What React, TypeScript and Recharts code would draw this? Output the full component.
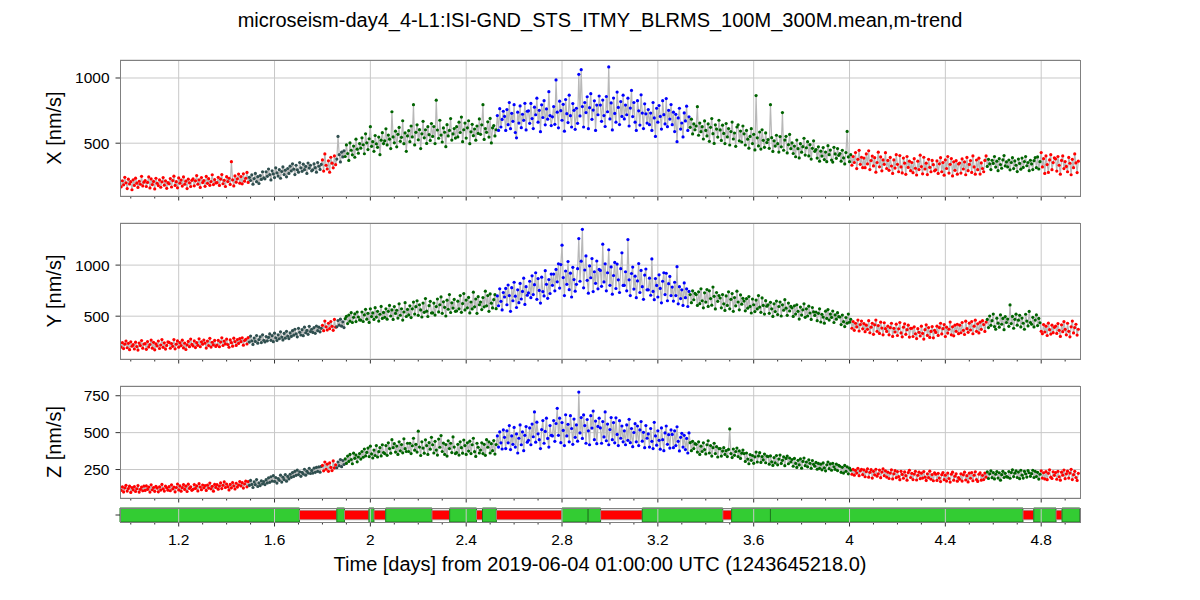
import React from "react";
import { ComposedChart, Line, XAxis, YAxis, CartesianGrid, ReferenceLine, ReferenceArea } from "recharts";

// trend samples, one every 0.005 day starting at T0 (20 per row = 0.1 day)
const T0 = 0.96;
const STEP = 0.005;

const xValues = [
  165, 212, 181, 238, 196, 152, 224, 187, 205, 143, 219, 176, 232, 193, 161, 208, 185, 246, 172, 201,
  214, 168, 199, 241, 157, 226, 183, 207, 149, 231, 192, 175, 218, 162, 204, 236, 178, 211, 154, 197,
  188, 229, 164, 213, 247, 176, 205, 158, 234, 193, 217, 171, 241, 185, 209, 152, 224, 196, 168, 215,
  226, 173, 211, 252, 186, 219, 161, 237, 198, 214, 169, 245, 192, 228, 177, 206, 258, 183, 221, 195,
  197, 238, 176, 224, 259, 189, 215, 168, 243, 206, 231, 184, 358, 218, 172, 249, 201, 227, 263, 193,
  244, 188, 265, 209, 231, 276, 199, 238, 214, 257, 186, 229, 268, 205, 243, 191, 252, 222, 281, 234,
  227, 281, 246, 302, 259, 218, 288, 264, 236, 311, 272, 248, 297, 231, 283, 318, 259, 293, 242, 306,
  268, 324, 287, 342, 301, 259, 331, 296, 278, 352, 311, 284, 339, 297, 322, 268, 348, 309, 331, 288,
  296, 341, 312, 278, 352, 323, 299, 337, 372, 286, 418, 331, 302, 365, 278, 392, 347, 311, 402, 335,
  378, 552, 412, 356, 431, 395, 442, 398, 487, 421, 368, 502, 446, 411, 478, 392, 531, 454, 423, 497,
  462, 541, 488, 419, 572, 503, 451, 534, 627, 476, 512, 438, 559, 495, 468, 547, 412, 523, 581, 497,
  518, 610, 487, 562, 531, 459, 741, 548, 503, 592, 472, 568, 621, 514, 545, 672, 496, 579, 438, 556,
  596, 512, 632, 548, 795, 487, 583, 641, 526, 604, 459, 572, 668, 541, 603, 498, 627, 565, 521, 651,
  552, 628, 497, 830, 601, 538, 676, 562, 509, 617, 584, 473, 642, 556, 598, 689, 524, 571, 612, 539,
  627, 548, 661, 582, 700, 512, 603, 654, 539, 618, 672, 496, 587, 645, 558, 609, 523, 632, 575, 686,
  568, 641, 795, 529, 612, 583, 664, 547, 690, 502, 618, 635, 556, 603, 712, 598, 765, 624, 682, 745,
  705, 598, 758, 642, 812, 611, 729, 668, 795, 582, 541, 738, 654, 786, 619, 722, 675, 806, 602, 745,
  748, 652, 805, 689, 612, 776, 718, 845, 661, 752, 588, 794, 697, 826, 641, 763, 684, 895, 712, 635,
  702, 781, 645, 985, 738, 618, 822, 749, 676, 798, 592, 835, 726, 658, 868, 711, 624, 804, 752, 606,
  768, 652, 1028, 709, 1064, 781, 624, 812, 735, 856, 611, 772, 880, 683, 754, 825, 598, 792, 718, 862,
  792, 668, 831, 712, 628, 858, 741, 1085, 686, 809, 602, 846, 728, 661, 892, 774, 643, 819, 705, 868,
  686, 792, 718, 845, 632, 769, 905, 704, 812, 661, 598, 826, 748, 639, 871, 731, 612, 802, 725, 654,
  758, 642, 731, 598, 812, 694, 552, 768, 661, 789, 705, 608, 826, 719, 648, 842, 627, 752, 685, 796,
  642, 738, 589, 721, 512, 694, 768, 608, 655, 548, 732, 671, 784, 598, 702, 622, 684, 571, 648, 603,
  632, 780, 561, 654, 588, 627, 532, 671, 598, 556, 648, 514, 622, 689, 573, 498, 641, 608, 547, 676,
  602, 521, 638, 575, 497, 651, 548, 612, 486, 589, 662, 532, 578, 476, 624, 641, 518, 593, 509, 632,
  572, 486, 598, 531, 462, 552, 611, 497, 568, 448, 865, 541, 479, 586, 455, 603, 522, 468, 579, 505,
  528, 461, 795, 542, 437, 518, 478, 561, 496, 432, 551, 472, 735, 446, 524, 553, 425, 489, 567, 458,
  502, 421, 478, 396, 524, 458, 387, 496, 431, 473, 538, 409, 465, 512, 402, 489, 378, 461, 518, 438,
  451, 386, 472, 362, 439, 401, 466, 374, 432, 358, 481, 412, 447, 371, 355, 468, 418, 384, 459, 407,
  421, 362, 446, 387, 341, 428, 590, 395, 358, 412, 331, 398, 352, 428, 305, 376, 445, 338, 392, 312,
  386, 312, 418, 341, 442, 298, 367, 401, 326, 389, 278, 352, 431, 319, 395, 288, 372, 338, 427, 306,
  368, 292, 391, 325, 268, 372, 309, 412, 338, 281, 405, 318, 272, 386, 347, 261, 398, 314, 362, 289,
  352, 274, 381, 308, 256, 362, 298, 408, 321, 265, 392, 302, 347, 259, 376, 315, 281, 368, 335, 288,
  296, 364, 268, 342, 389, 281, 351, 255, 372, 306, 398, 271, 338, 382, 249, 357, 292, 366, 262, 341,
  348, 271, 379, 302, 356, 258, 391, 289, 337, 367, 276, 402, 318, 262, 371, 297, 385, 263, 349, 306,
  281, 368, 402, 322, 376, 341, 298, 369, 345, 398, 317, 362, 289, 381, 336, 308, 372, 405, 326, 356,
  318, 371, 296, 352, 389, 305, 364, 331, 282, 378, 345, 301, 386, 314, 359, 398, 327, 352, 289, 369,
  341, 298, 366, 389, 312, 395, 302, 358, 428, 318, 381, 268, 402, 336, 276, 372, 412, 297, 351, 388,
  379, 286, 398, 331, 262, 368, 402, 305, 359, 322, 281, 391, 346, 258, 376, 312, 418, 349, 275, 362,
];

const yValues = [
  198, 241, 183, 226, 257, 191, 234, 172, 249, 206, 221, 179, 246, 203, 168, 237, 212, 262, 187, 228,
  231, 176, 252, 199, 223, 266, 187, 244, 171, 229, 208, 257, 184, 218, 271, 195, 239, 178, 214, 248,
  243, 186, 232, 205, 271, 181, 226, 258, 197, 241, 212, 265, 189, 236, 174, 219, 253, 202, 276, 224,
  208, 258, 193, 241, 215, 279, 201, 249, 226, 267, 237, 188, 256, 212, 283, 198, 245, 219, 263, 204,
  218, 264, 201, 247, 289, 213, 256, 229, 276, 222, 196, 268, 241, 207, 285, 252, 214, 271, 233, 281,
  251, 289, 216, 262, 274, 228, 291, 247, 305, 259, 224, 286, 253, 311, 236, 271, 298, 242, 318, 264,
  248, 301, 259, 292, 326, 264, 309, 251, 334, 288, 262, 318, 279, 347, 296, 268, 331, 285, 352, 304,
  281, 336, 302, 358, 314, 372, 327, 298, 381, 342, 316, 368, 309, 392, 338, 361, 322, 401, 349, 372,
  341, 389, 332, 404, 358, 392, 347, 381, 411, 358, 452, 396, 365, 431, 378, 448, 401, 362, 468, 392,
  396, 458, 412, 471, 402, 445, 389, 476, 498, 428, 511, 451, 534, 438, 489, 522, 447, 541, 492, 463,
  462, 541, 448, 512, 567, 471, 528, 439, 572, 496, 532, 468, 583, 491, 548, 452, 519, 596, 478, 537,
  489, 572, 471, 548, 605, 502, 561, 468, 594, 527, 558, 482, 621, 509, 573, 462, 541, 632, 497, 566,
  512, 601, 486, 572, 638, 521, 593, 651, 508, 612, 561, 492, 628, 538, 672, 549, 497, 603, 645, 531,
  532, 628, 511, 594, 668, 542, 612, 689, 528, 641, 587, 502, 657, 568, 712, 536, 631, 579, 664, 548,
  551, 647, 572, 702, 538, 623, 721, 561, 658, 582, 684, 532, 639, 571, 735, 592, 668, 528, 691, 612,
  638, 565, 682, 592, 745, 601, 702, 548, 718, 627, 581, 662, 711, 574, 698, 602, 768, 645, 561, 732,
  688, 772, 612, 805, 702, 548, 779, 651, 832, 696, 585, 758, 632, 821, 668, 742, 872, 615, 789, 705,
  728, 842, 681, 895, 712, 808, 925, 665, 868, 752, 628, 882, 741, 698, 945, 812, 675, 858, 722, 912,
  802, 912, 748, 958, 836, 1012, 775, 1005, 1195, 878, 702, 942, 812, 1035, 759, 921, 688, 978, 858, 745,
  812, 965, 1260, 842, 1038, 1350, 778, 952, 1090, 851, 725, 992, 876, 1064, 741, 935, 822, 1040, 768, 958,
  948, 792, 1205, 835, 1012, 748, 925, 1150, 802, 982, 715, 898, 1026, 771, 1010, 856, 732, 965, 1120, 801,
  802, 935, 748, 1250, 856, 702, 918, 981, 765, 892, 681, 845, 1015, 732, 948, 789, 665, 902, 962, 758,
  758, 872, 705, 1060, 742, 662, 868, 801, 688, 905, 772, 631, 842, 925, 712, 920, 651, 818, 889, 702,
  785, 648, 832, 702, 985, 621, 789, 672, 758, 605, 826, 681, 768, 595, 742, 712, 632, 748, 661, 723,
  712, 605, 738, 622, 768, 651, 582, 729, 638, 761, 596, 748, 672, 608, 785, 694, 571, 732, 645, 702,
  678, 582, 712, 621, 556, 698, 605, 738, 572, 665, 721, 548, 682, 601, 745, 639, 562, 708, 618, 675,
  648, 552, 671, 578, 692, 596, 531, 668, 612, 545, 658, 571, 702, 589, 538, 679, 605, 521, 652, 598,
  612, 528, 636, 572, 498, 621, 545, 648, 516, 595, 639, 502, 611, 558, 662, 578, 508, 628, 551, 596,
  582, 498, 601, 521, 612, 548, 472, 589, 511, 562, 621, 489, 572, 502, 598, 531, 468, 585, 542, 507,
  541, 456, 528, 572, 443, 518, 491, 432, 549, 478, 565, 462, 521, 488, 551, 438, 512, 471, 534, 495,
  492, 418, 511, 446, 398, 487, 432, 521, 441, 469, 382, 448, 362, 431, 395, 462, 355, 418, 452, 376,
  428, 348, 412, 371, 456, 338, 392, 431, 322, 415, 462, 352, 408, 331, 441, 384, 318, 436, 378, 351,
  402, 318, 388, 431, 302, 381, 345, 422, 311, 376, 438, 336, 298, 392, 425, 322, 368, 412, 296, 381,
  382, 301, 396, 328, 281, 378, 342, 306, 402, 331, 276, 368, 415, 312, 389, 292, 351, 398, 288, 362,
  341, 402, 312, 389, 431, 326, 378, 418, 301, 392, 335, 372, 442, 318, 396, 308, 412, 352, 421, 329,
  412, 338, 438, 362, 321, 451, 378, 342, 432, 365, 448, 328, 402, 461, 352, 425, 336, 441, 371, 456,
  418, 351, 442, 468, 389, 502, 411, 456, 521, 398, 372, 481, 432, 392, 512, 421, 478, 368, 496, 438,
  472, 401, 610, 428, 498, 382, 469, 520, 412, 461, 508, 395, 482, 431, 372, 519, 452, 405, 547, 438,
  421, 489, 395, 462, 512, 408, 478, 436, 352, 328, 418, 345, 402, 311, 432, 368, 325, 412, 339, 391,
  402, 331, 428, 362, 302, 415, 348, 446, 371, 318, 431, 352, 298, 396, 452, 336, 389, 421, 315, 372,
];

const zValues = [
  109, 132, 98, 125, 143, 104, 121, 137, 95, 128, 112, 134, 101, 119, 141, 97, 116, 131, 106, 138,
  108, 139, 115, 131, 97, 146, 113, 128, 102, 136, 124, 99, 133, 111, 149, 119, 104, 137, 126, 110,
  134, 106, 146, 118, 131, 99, 128, 152, 112, 139, 103, 127, 148, 115, 137, 101, 151, 122, 133, 109,
  116, 148, 122, 139, 105, 154, 131, 113, 145, 126, 141, 108, 144, 124, 158, 119, 136, 103, 149, 129,
  148, 117, 138, 159, 121, 143, 166, 128, 152, 134, 112, 149, 126, 162, 139, 118, 157, 131, 145, 168,
  139, 161, 124, 152, 171, 133, 168, 142, 176, 149, 128, 166, 147, 182, 135, 159, 141, 174, 153, 168,
  148, 181, 159, 194, 163, 201, 172, 208, 169, 196, 158, 189, 177, 212, 165, 198, 182, 216, 171, 203,
  186, 218, 197, 229, 203, 238, 211, 246, 216, 235, 204, 231, 219, 252, 212, 239, 226, 258, 223, 244,
  226, 259, 231, 264, 238, 268, 232, 271, 278, 241, 301, 252, 286, 238, 295, 264, 243, 308, 261, 282,
  262, 301, 276, 318, 269, 311, 284, 322, 291, 341, 305, 352, 318, 289, 361, 326, 348, 302, 335, 358,
  321, 372, 333, 389, 342, 366, 395, 338, 408, 356, 328, 382, 345, 412, 335, 371, 398, 342, 418, 365,
  358, 412, 346, 431, 392, 361, 452, 398, 425, 368, 409, 352, 438, 377, 419, 363, 458, 391, 372, 428,
  372, 428, 358, 411, 462, 381, 421, 368, 510, 402, 345, 438, 395, 361, 451, 412, 352, 432, 388, 468,
  418, 362, 441, 382, 348, 456, 401, 480, 372, 429, 352, 419, 341, 445, 392, 428, 365, 471, 402, 358,
  365, 421, 348, 438, 398, 361, 450, 412, 352, 431, 375, 442, 358, 418, 462, 371, 339, 428, 401, 362,
  382, 431, 358, 421, 346, 452, 401, 438, 362, 425, 378, 446, 355, 419, 478, 402, 505, 431, 389, 518,
  468, 392, 512, 431, 548, 385, 478, 421, 535, 402, 491, 362, 462, 552, 418, 505, 378, 482, 541, 435,
  448, 532, 418, 558, 472, 640, 435, 571, 492, 452, 392, 521, 582, 428, 508, 598, 461, 402, 548, 482,
  478, 582, 441, 562, 665, 482, 598, 432, 568, 515, 412, 621, 478, 556, 438, 615, 528, 421, 592, 468,
  552, 442, 775, 498, 602, 461, 620, 548, 428, 589, 512, 418, 615, 531, 646, 452, 578, 425, 542, 598,
  532, 428, 575, 471, 640, 445, 558, 418, 521, 602, 452, 568, 431, 600, 488, 412, 581, 462, 545, 438,
  512, 418, 552, 448, 590, 432, 528, 405, 501, 561, 438, 545, 412, 518, 575, 442, 502, 398, 548, 462,
  491, 402, 528, 441, 392, 570, 478, 415, 512, 448, 388, 532, 452, 378, 498, 545, 421, 486, 395, 518,
  488, 398, 512, 412, 540, 441, 376, 468, 495, 402, 482, 385, 461, 362, 498, 432, 378, 441, 392, 425,
  421, 368, 438, 352, 408, 372, 431, 385, 356, 418, 445, 362, 412, 341, 398, 428, 358, 405, 335, 392,
  392, 341, 375, 398, 352, 378, 338, 386, 525, 358, 331, 389, 346, 372, 395, 338, 376, 325, 361, 382,
  358, 305, 362, 321, 289, 351, 312, 345, 292, 336, 368, 301, 342, 364, 298, 338, 315, 355, 296, 341,
  338, 286, 342, 302, 278, 331, 295, 345, 282, 321, 348, 291, 312, 336, 276, 325, 341, 289, 328, 301,
  318, 272, 325, 291, 264, 312, 281, 322, 259, 305, 328, 276, 301, 268, 316, 292, 258, 311, 285, 272,
  298, 252, 291, 258, 286, 248, 295, 262, 241, 282, 301, 256, 288, 245, 292, 268, 251, 286, 243, 279,
  272, 231, 265, 226, 278, 238, 268, 221, 259, 246, 218, 251, 212, 244, 226, 258, 208, 241, 252, 215,
  248, 201, 236, 255, 198, 231, 249, 192, 238, 214, 252, 205, 221, 246, 195, 233, 254, 208, 241, 199,
  232, 189, 226, 248, 186, 221, 242, 195, 236, 202, 181, 238, 217, 191, 234, 208, 178, 229, 245, 196,
  224, 182, 219, 238, 179, 211, 232, 188, 225, 192, 236, 198, 176, 221, 195, 239, 184, 216, 174, 228,
  218, 176, 224, 192, 168, 215, 229, 181, 212, 172, 226, 189, 165, 218, 232, 178, 205, 221, 171, 196,
  184, 221, 172, 214, 232, 179, 208, 166, 225, 191, 229, 174, 212, 235, 182, 169, 218, 227, 178, 211,
  182, 226, 198, 234, 189, 221, 241, 195, 229, 186, 218, 236, 192, 228, 178, 215, 238, 196, 224, 202,
  198, 236, 191, 229, 248, 202, 225, 241, 196, 233, 188, 245, 212, 192, 238, 221, 199, 243, 228, 204,
  222, 245, 196, 238, 202, 231, 185, 218, 241, 192, 228, 186, 236, 181, 224, 248, 198, 189, 235, 211,
  229, 184, 238, 201, 178, 232, 212, 246, 188, 221, 239, 192, 226, 251, 182, 215, 238, 196, 176, 224,
];

// colour of the points changes with time (state of the detector)
const segStarts = [0.95, 1.495, 1.8, 1.858, 1.892, 2.528, 3.334, 4.01, 4.575, 4.797];
const segColors = ["#ff0000", "#2f4f4f", "#ff0000", "#2f4f4f", "#006400", "#0000ff", "#006400", "#ff0000", "#006400", "#ff0000"];

// state segment bar under the panels
const stateEdges = [0.955, 1.704, 1.86, 1.892, 1.994, 2.015, 2.064, 2.257, 2.331, 2.443, 2.468, 2.526, 2.8, 2.909, 2.961, 3.135, 3.471, 3.508, 3.67, 4.724, 4.769, 4.862, 4.887, 4.961];
const stateOk = [true, false, true, false, true, false, true, false, true, false, true, false, true, true, false, true, false, true, true, false, true, false, true];

const majorTicks = [1.2, 1.6, 2, 2.4, 2.8, 3.2, 3.6, 4, 4.4, 4.8];
const allTicks = [1.0, 1.1, 1.2, 1.3, 1.4, 1.5, 1.6, 1.7, 1.8, 1.9, 2.0, 2.1, 2.2, 2.3, 2.4, 2.5, 2.6, 2.7, 2.8, 2.9, 3.0, 3.1, 3.2, 3.3, 3.4, 3.5, 3.6, 3.7, 3.8, 3.9, 4.0, 4.1, 4.2, 4.3, 4.4, 4.5, 4.6, 4.7, 4.8, 4.9];

const X_DOMAIN: [number, number] = [0.955, 4.962];
const FONT = "'Liberation Sans', Arial, Helvetica, sans-serif";
const GRID = "#c8c8c8";
const FRAME = "#808080";
const TICK_FS = 15.5;
const LABEL_FS = 20;

const panels = [
  { label: "X [nm/s]", values: xValues, top: 60, height: 136, domain: [95, 1138], ticks: [500, 1000] },
  { label: "Y [nm/s]", values: yValues, top: 223, height: 136, domain: [81, 1412], ticks: [500, 1000] },
  { label: "Z [nm/s]", values: zValues, top: 386, height: 112, domain: [57, 816], ticks: [250, 500, 750] },
];
const STATE_TOP = 508;
const STATE_H = 14;

const colorAt = (t: number) => {
  let c = segColors[0];
  for (let i = 0; i < segStarts.length; i++) if (t >= segStarts[i] - 1e-6) c = segColors[i];
  return c;
};

const isMajor = (v: number) => majorTicks.some((m) => Math.abs(m - v) < 1e-6);

const XTick = (props: any) => {
  const { x, y, payload, showLabels } = props;
  const major = isMajor(payload.value);
  return (
    <g>
      <line x1={x} x2={x} y1={y} y2={y + (major ? 4.5 : 2.5)} stroke="#333" strokeWidth={1} />
      {major && showLabels && (
        <text x={x} y={y + 23} textAnchor="middle" fontSize={TICK_FS} fill="#000" fontFamily={FONT}>
          {String(payload.value)}
        </text>
      )}
    </g>
  );
};

const renderDot = (props: any) => {
  const { cx, cy, payload, index } = props;
  return <circle key={`d${index}`} cx={cx} cy={cy} r={1.6} fill={colorAt(payload.t)} />;
};

function Panel({ values, top, height, domain, ticks }: any) {
  const data = values.map((v: number, i: number) => ({ t: Math.round((T0 + i * STEP) * 1000) / 1000, v }));
  return (
    <div style={{ position: "absolute", left: 0, top: top - 10 }}>
      <ComposedChart width={1200} height={height + 40} data={data} margin={{ top: 10, right: 120, bottom: 0, left: 60 }}>
        <CartesianGrid vertical={false} stroke={GRID} />
        {majorTicks.map((m) => (
          <ReferenceLine key={m} x={m} stroke={GRID} strokeWidth={1} />
        ))}
        <XAxis
          type="number"
          dataKey="t"
          domain={X_DOMAIN}
          allowDataOverflow
          ticks={allTicks}
          interval={0}
          height={30}
          tickSize={0}
          tickMargin={0}
          tickLine={false}
          axisLine={false}
          tick={<XTick showLabels={false} />}
        />
        <YAxis
          type="number"
          domain={domain}
          allowDataOverflow
          ticks={ticks}
          width={60}
          axisLine={false}
          tickSize={4.5}
          tickMargin={6}
          tickLine={{ stroke: "#333" }}
          tick={{ fontSize: TICK_FS, fill: "#000", fontFamily: FONT }}
        />
        <Line
          type="linear"
          dataKey="v"
          stroke="#b8b8b8"
          strokeWidth={1.2}
          dot={renderDot}
          activeDot={false}
          isAnimationActive={false}
        />
      </ComposedChart>
    </div>
  );
}

function StateBar() {
  const data = stateEdges.map((t) => ({ t, s: 0.5 }));
  return (
    <div style={{ position: "absolute", left: 0, top: STATE_TOP - 10 }}>
      <ComposedChart width={1200} height={STATE_H + 40} data={data} margin={{ top: 10, right: 120, bottom: 0, left: 60 }}>
        <XAxis
          type="number"
          dataKey="t"
          domain={X_DOMAIN}
          allowDataOverflow
          ticks={allTicks}
          interval={0}
          height={30}
          tickSize={0}
          tickMargin={0}
          tickLine={false}
          axisLine={false}
          tick={<XTick showLabels />}
        />
        <YAxis
          type="number"
          domain={[0, 1]}
          ticks={[0.5]}
          width={60}
          axisLine={false}
          tickSize={4.5}
          tickLine={{ stroke: "#333" }}
          tickFormatter={() => ""}
        />
        {stateOk.map((ok, i) =>
          ok ? (
            <ReferenceArea
              key={i}
              x1={stateEdges[i]}
              x2={stateEdges[i + 1]}
              y1={0}
              y2={1}
              fill="#33cc33"
              fillOpacity={1}
              stroke="#1f7a1f"
              strokeWidth={1}
            />
          ) : (
            <ReferenceArea
              key={i}
              x1={stateEdges[i]}
              x2={stateEdges[i + 1]}
              y1={0.16}
              y2={0.84}
              fill="#ff0000"
              fillOpacity={1}
              stroke="#9a9a9a"
              strokeWidth={0.8}
            />
          )
        )}
        {majorTicks.map((m) => (
          <ReferenceLine key={m} x={m} stroke={GRID} strokeWidth={1} />
        ))}
        <Line dataKey="s" stroke="none" dot={false} activeDot={false} isAnimationActive={false} />
      </ComposedChart>
    </div>
  );
}

export default function App() {
  return (
    <div style={{ position: "absolute", left: 0, top: 0, width: 1200, height: 600, background: "#fff", fontFamily: FONT }}>
      {panels.map((p) => (
        <Panel key={p.label} {...p} />
      ))}
      <StateBar />
      <svg width={1200} height={600} style={{ position: "absolute", left: 0, top: 0, pointerEvents: "none" }}>
        <text x={600} y={27} textAnchor="middle" fontSize={LABEL_FS} fontFamily={FONT} fill="#000">
          microseism-day4_4-L1:ISI-GND_STS_ITMY_BLRMS_100M_300M.mean,m-trend
        </text>
        {panels.map((p) => (
          <g key={p.label}>
            <rect x={120.5} y={p.top + 0.5} width={960} height={p.height} fill="none" stroke={FRAME} strokeWidth={1} />
            <text
              transform={`translate(61, ${p.top + p.height / 2}) rotate(-90)`}
              textAnchor="middle"
              fontSize={LABEL_FS}
              fontFamily={FONT}
              fill="#000"
            >
              {p.label}
            </text>
          </g>
        ))}
        <rect x={120.5} y={STATE_TOP + 0.5} width={960} height={STATE_H} fill="none" stroke={FRAME} strokeWidth={1} />
        <text x={600} y={571} textAnchor="middle" fontSize={LABEL_FS} fontFamily={FONT} fill="#000">
          Time [days] from 2019-06-04 01:00:00 UTC (1243645218.0)
        </text>
      </svg>
    </div>
  );
}
